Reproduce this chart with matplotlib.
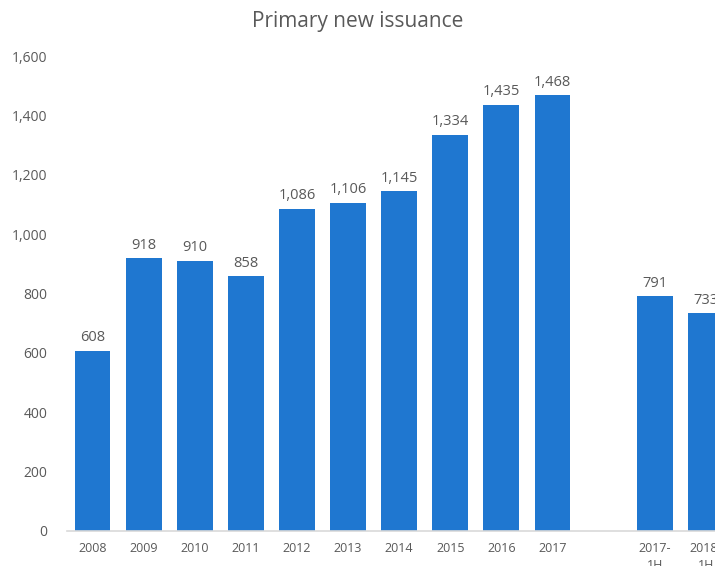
import matplotlib
matplotlib.use("Agg")
import matplotlib.pyplot as plt

categories = ["2008", "2009", "2010", "2011", "2012", "2013", "2014", "2015", "2016", "2017", "", "2017-\n1H", "2018-\n1H"]
values = [608, 918, 910, 858, 1086, 1106, 1145, 1334, 1435, 1468, None, 791, 733]
yticks = [0, 200, 400, 600, 800, 1000, 1200, 1400, 1600]

plt.rcParams['font.family'] = ['Open Sans', 'DejaVu Sans']
text_color = "#595959"
bar_color = "#1F77D0"

fig = plt.figure(figsize=(7.15, 5.66), dpi=100)
left = 67 / 715
width = (13 * 51.1) / 715
bottom = (566 - 531) / 566
height = (531 - 56) / 566
ax = fig.add_axes([left, bottom, width, height])

xs = [i for i, v in enumerate(values) if v is not None]
vs = [v for v in values if v is not None]
bars = ax.bar(xs, vs, width=0.7, color=bar_color, zorder=2)
for x, v in zip(xs, vs):
    ax.annotate(f"{v:,}", (x, v), xytext=(0, 4), textcoords="offset points",
                ha="center", va="bottom", fontsize=10.5, color=text_color)

ax.set_xlim(-0.5, 12.5)
ax.set_ylim(0, 1600)
ax.set_yticks(yticks)
ax.set_yticklabels([f"{t:,}" for t in yticks])
ax.set_xticks(range(len(categories)))
ax.set_xticklabels(categories, linespacing=1.35)
ax.tick_params(axis="y", length=0, pad=14, labelsize=10, labelcolor=text_color)
ax.tick_params(axis="x", length=0, pad=8, labelsize=9, labelcolor=text_color)
for s in ["top", "right", "left"]:
    ax.spines[s].set_visible(False)
ax.spines["bottom"].set_color("#D9D9D9")
ax.spines["bottom"].set_linewidth(1.2)

fig.text(0.5, 1 - 21 / 566, "Primary new issuance", ha="center", va="center",
         fontsize=15, color=text_color)

fig.savefig("out.png", dpi=100)
